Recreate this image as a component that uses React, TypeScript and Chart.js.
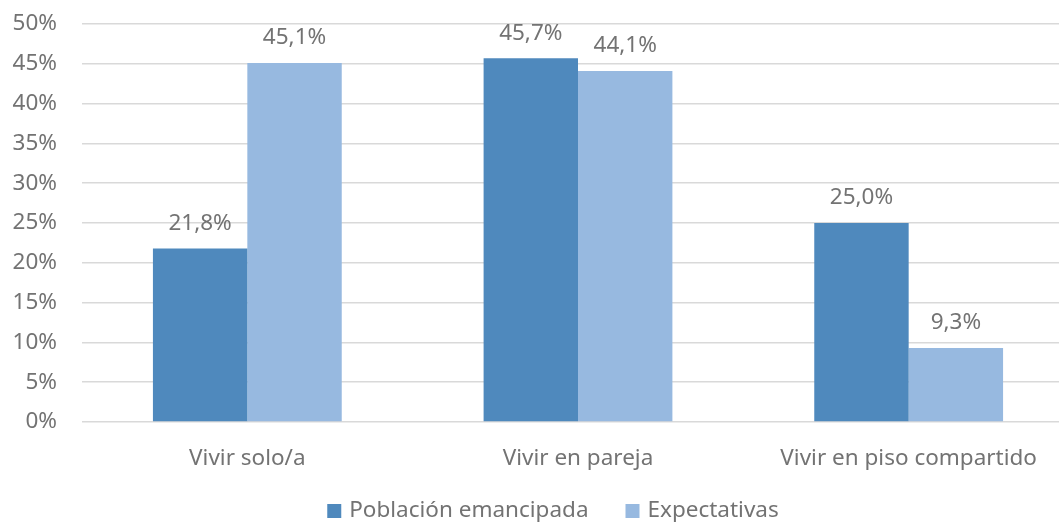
import React, { useEffect, useRef } from "react";
import { Chart, registerables } from "chart.js";

Chart.register(...registerables);

const categories = ["Vivir solo/a", "Vivir en pareja", "Vivir en piso compartido"];
const seriesNames = ["Población emancipada", "Expectativas"];
const emancipada = [21.8, 45.7, 25.0];
const expectativas = [45.1, 44.1, 9.3];
const yTicks = [0, 5, 10, 15, 20, 25, 30, 35, 40, 45, 50];
const seriesColors = ["#4f89bd", "#97b9e0"];

const FONT = "'Noto Sans', 'Open Sans', sans-serif";
const FS = 22.5;
const GRAY = "#737373";

const labelPlugin = {
  id: "barLabels",
  afterDatasetsDraw(chart: any) {
    const ctx = chart.ctx;
    ctx.save();
    ctx.font = `${FS}px ${FONT}`;
    ctx.fillStyle = GRAY;
    ctx.textAlign = "center";
    ctx.textBaseline = "middle";
    chart.data.datasets.forEach((ds: any, di: number) => {
      const meta = chart.getDatasetMeta(di);
      meta.data.forEach((el: any, i: number) => {
        const v = ds.data[i] as number;
        const txt = v.toFixed(1).replace(".", ",") + "%";
        ctx.fillText(txt, el.x, el.y - 25);
      });
    });
    ctx.restore();
  },
};

const legendPlugin = {
  id: "customLegend",
  afterDraw(chart: any) {
    const ctx = chart.ctx;
    const area = chart.chartArea;
    ctx.save();
    ctx.font = `${FS}px ${FONT}`;
    ctx.textBaseline = "middle";
    ctx.textAlign = "left";
    const box = 14;
    const gapText = 8;
    const gapItem = 37;
    const widths = chart.data.datasets.map((ds: any) => ctx.measureText(ds.label).width);
    const total =
      widths.reduce((a: number, w: number) => a + box + gapText + w, 0) +
      gapItem * (widths.length - 1);
    let x = 553 - total / 2;
    const y = area.bottom + 89;
    chart.data.datasets.forEach((ds: any, i: number) => {
      ctx.fillStyle = ds.backgroundColor;
      ctx.fillRect(x, y - box / 2, box, box);
      ctx.fillStyle = GRAY;
      ctx.fillText(ds.label, x + box + gapText, y);
      x += box + gapText + widths[i] + gapItem;
    });
    ctx.restore();
  },
};

export default function App() {
  const ref = useRef<HTMLCanvasElement>(null);
  useEffect(() => {
    if (!ref.current) return;
    const chart = new Chart(ref.current, {
      type: "bar",
      data: {
        labels: categories,
        datasets: [
          {
            label: seriesNames[0],
            data: emancipada,
            backgroundColor: seriesColors[0],
            categoryPercentage: 0.571,
            barPercentage: 1,
          },
          {
            label: seriesNames[1],
            data: expectativas,
            backgroundColor: seriesColors[1],
            categoryPercentage: 0.571,
            barPercentage: 1,
          },
        ],
      },
      options: {
        responsive: false,
        animation: false,
        layout: { padding: { top: 24, right: 2, left: 0, bottom: 60 } },
        plugins: {
          legend: { display: false },
          tooltip: { enabled: false },
        },
        scales: {
          x: {
            grid: { display: false, drawTicks: false },
            border: { display: false },
            ticks: { color: GRAY, font: { family: FONT, size: FS }, padding: 23 },
          },
          y: {
            min: 0,
            max: 50,
            afterFit: (s: any) => {
              s.width = 82;
              s.paddingTop = 0;
              s.paddingBottom = 0;
            },
            afterBuildTicks: (s: any) => {
              s.ticks = yTicks.map((v) => ({ value: v }));
            },
            grid: { color: "#d9d9d9", lineWidth: 1.5, drawTicks: false },
            border: { display: false },
            ticks: {
              color: GRAY,
              font: { family: FONT, size: FS },
              padding: 25,
              callback: (v: any) => v + "%",
            },
          },
        },
      },
      plugins: [labelPlugin, legendPlugin],
    });
    return () => chart.destroy();
  }, []);
  return (
    <div
      style={{
        position: "fixed",
        left: 0,
        top: 0,
        width: 1059,
        height: 522,
        overflow: "hidden",
        background: "#fff",
      }}
    >
      <canvas ref={ref} width={1076} height={555} />
    </div>
  );
}
